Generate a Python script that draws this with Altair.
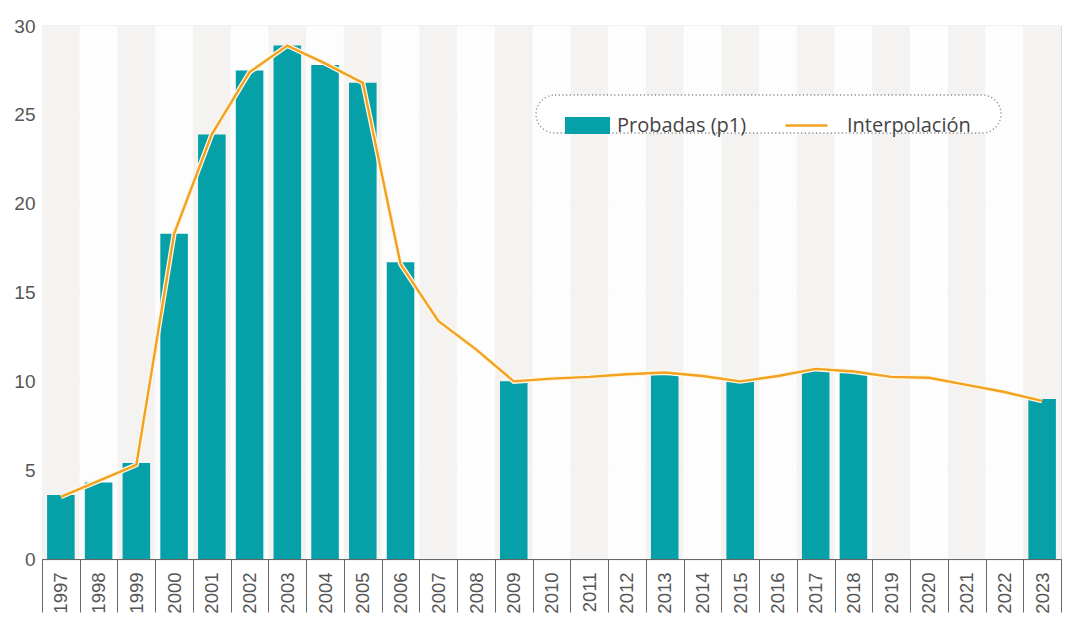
import altair as alt
import pandas as pd

years = ["1997", "1998", "1999", "2000", "2001", "2002", "2003", "2004", "2005",
         "2006", "2007", "2008", "2009", "2010", "2011", "2012", "2013", "2014",
         "2015", "2016", "2017", "2018", "2019", "2020", "2021", "2022", "2023"]
probadas = [3.6, 4.3, 5.4, 18.3, 23.9, 27.5, 28.9, 27.8, 26.8, 16.7, None, None,
            10.0, None, None, None, 10.5, None, 10.0, None, 10.6, 10.5, None, None,
            None, None, 9.0]
interpolacion = [3.5, 4.4, 5.3, 18.3, 23.9, 27.4, 28.9, 27.9, 26.8, 16.6, 13.4, 11.8,
                 10.0, 10.15, 10.25, 10.4, 10.5, 10.3, 10.0, 10.3, 10.7, 10.55, 10.25,
                 10.2, 9.8, 9.4, 8.9]
serie_barras = "Probadas (p1)"
serie_linea = "Interpolación"

TEAL = "#05a0a8"
ORANGE = "#f3a21f"
FONT = "Open Sans"

df = pd.DataFrame({"year": years, "probadas": probadas, "interp": interpolacion})
df["stripe"] = ["#f4f3f1" if i % 2 == 0 else "#fdfdfd" for i in range(len(years))]
df["sb"] = serie_barras
df["sl"] = serie_linea

xenc = alt.X("year:O", sort=years, title=None,
             scale=alt.Scale(paddingInner=0, paddingOuter=0),
             axis=alt.Axis(labelAngle=-90, labelAlign="right", labelBaseline="middle",
                           tickBand="extent", tickSize=53, tickColor="#666666",
                           tickWidth=1, labelPadding=-40, labelFontSize=18.5,
                           labelColor="#555555", domainColor="#666666", domainWidth=1.2,
                           grid=False))
yscale = alt.Scale(domain=[0, 30])

base = alt.Chart(df)

stripes = base.mark_rect().encode(
    x=xenc,
    y=alt.datum(30, scale=yscale, type="quantitative"),
    y2=alt.datum(0),
    color=alt.Color("stripe:N", scale=None),
)

bars = base.mark_bar(width=alt.RelativeBandSize(0.73)).encode(
    x=xenc,
    y=alt.Y("probadas:Q", scale=yscale, title=None,
            axis=alt.Axis(values=[0, 5, 10, 15, 20, 25, 30], grid=True,
                          gridColor="#c9c9c9", gridWidth=1.3, ticks=False,
                          domain=False, labelFontSize=19, labelColor="#555555",
                          labelPadding=7)),
    fill=alt.Fill("sb:N",
                  scale=alt.Scale(domain=[serie_barras], range=[TEAL]),
                  legend=alt.Legend(title=None, orient="none", legendX=523,
                                    legendY=77, symbolType="M-1,-0.38H1V0.38H-1Z",
                                    symbolSize=2025, symbolStrokeWidth=0,
                                    labelOffset=7, labelFontSize=20,
                                    labelColor="#444444", labelFont=FONT,
                                    padding=0)),
)

halo = base.mark_line(color="#fff6e6", strokeWidth=5).encode(
    x=xenc, y=alt.Y("interp:Q", scale=yscale))

line = base.mark_line(strokeWidth=2.4).encode(
    x=xenc, y=alt.Y("interp:Q", scale=yscale),
    stroke=alt.Stroke("sl:N",
                      scale=alt.Scale(domain=[serie_linea], range=[ORANGE]),
                      legend=alt.Legend(title=None, orient="none", legendX=742,
                                        legendY=77, symbolType="stroke",
                                        symbolSize=1764, symbolStrokeWidth=2.5,
                                        labelOffset=18, labelFontSize=20,
                                        labelColor="#444444", labelFont=FONT,
                                        padding=0)),
)

box = alt.Chart(pd.DataFrame({"k": [0]})).mark_rect(
    fill="#ffffff", stroke="#8a8a8a", strokeDash=[1.2, 2.5], strokeWidth=1.3,
    cornerRadius=19,
).encode(x=alt.value(494), x2=alt.value(959), y=alt.value(69), y2=alt.value(107))

chart = alt.layer(stripes, bars, halo, line, box).properties(
    width=1054, height=606,
    autosize=alt.AutoSizeParams(type="fit", contains="padding"),
    padding={"left": 5, "top": 9, "right": 0, "bottom": 0},
).configure_view(stroke=None).configure_axis(
    labelFont=FONT
).configure(background="#ffffff")

chart.save("out.html", embed_options={"renderer": "svg", "actions": False})
